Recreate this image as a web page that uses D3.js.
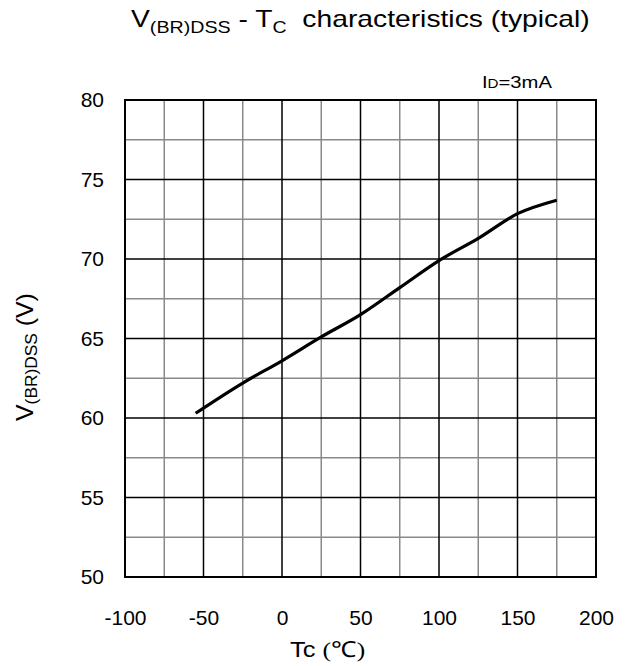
<!DOCTYPE html>
<html><head><meta charset="utf-8">
<script src="https://cdn.jsdelivr.net/npm/d3@7/dist/d3.min.js"></script>
<style>body{margin:0;background:#fff}svg{display:block}text{font-family:"Liberation Sans",Arial,sans-serif}</style>
</head><body><svg id="c" width="630" height="666"></svg>
<script>
const tempC = [-55, -25, 0, 25, 50, 75, 100, 125, 150, 175];
const vbrdss = [60.3, 62.2, 63.6, 65.1, 66.5, 68.2, 69.9, 71.3, 72.85, 73.7];
const xTicks = [-100, -50, 0, 50, 100, 150, 200];
const yTicks = [50, 55, 60, 65, 70, 75, 80];
const xMinor = [-75, -25, 25, 75, 125, 175];
const yMinor = [52.5, 57.5, 62.5, 67.5, 72.5, 77.5];

const svg = d3.select("#c");
const m = {l:125, r:596, t:100, b:577};
const x = d3.scaleLinear().domain([-100, 200]).range([m.l, m.r]);
const y = d3.scaleLinear().domain([50, 80]).range([m.b, m.t]);
const SANS = '"Liberation Sans",Arial,sans-serif';

const g = svg.append("g");
g.selectAll(".vx").data(xMinor).join("line")
  .attr("x1", d=>x(d)).attr("x2", d=>x(d)).attr("y1", m.t).attr("y2", m.b)
  .attr("stroke", "#8a8a8a").attr("stroke-width", 1.5);
g.selectAll(".hy").data(yMinor).join("line")
  .attr("y1", d=>y(d)).attr("y2", d=>y(d)).attr("x1", m.l).attr("x2", m.r)
  .attr("stroke", "#8a8a8a").attr("stroke-width", 1.5);
g.selectAll(".mx").data(xTicks.slice(1, -1)).join("line")
  .attr("x1", d=>x(d)).attr("x2", d=>x(d)).attr("y1", m.t).attr("y2", m.b)
  .attr("stroke", "#000").attr("stroke-width", 1.5);
g.selectAll(".my").data(yTicks.slice(1, -1)).join("line")
  .attr("y1", d=>y(d)).attr("y2", d=>y(d)).attr("x1", m.l).attr("x2", m.r)
  .attr("stroke", "#000").attr("stroke-width", 1.5);
g.append("rect").attr("x", m.l).attr("y", m.t).attr("width", m.r-m.l).attr("height", m.b-m.t)
  .attr("fill", "none").attr("stroke", "#000").attr("stroke-width", 2);

const xa = svg.append("g").attr("transform", `translate(0,${m.b})`)
  .call(d3.axisBottom(x).tickValues(xTicks).tickSize(0).tickPadding(33).tickFormat(d=>String(d)));
xa.select(".domain").remove();
xa.selectAll("text").attr("font-size", 21).attr("fill", "#000").style("font-family", SANS);
const ya = svg.append("g").attr("transform", `translate(${m.l},0)`)
  .call(d3.axisLeft(y).tickValues(yTicks).tickSize(0).tickPadding(21).tickFormat(d=>String(d)));
ya.select(".domain").remove();
ya.selectAll("text").attr("font-size", 21).attr("fill", "#000").style("font-family", SANS);

svg.append("path").datum(tempC.map((t,i)=>[t, vbrdss[i]]))
  .attr("d", d3.line().x(d=>x(d[0])).y(d=>y(d[1])).curve(d3.curveMonotoneX))
  .attr("fill", "none").attr("stroke", "#000").attr("stroke-width", 3.2);

function fit(sel, x0, y0, w) {
  const bw = sel.node().getComputedTextLength();
  sel.attr("transform", `translate(${x0},${y0}) scale(${w/bw},1)`);
}

const tt = svg.append("text").attr("font-size", 23).attr("fill", "#000");
tt.append("tspan").text("V");
tt.append("tspan").attr("font-size", 16).attr("dy", 6).text("(BR)DSS");
tt.append("tspan").attr("dy", -6).text(" - T");
tt.append("tspan").attr("font-size", 16).attr("dy", 6).text("C");
tt.append("tspan").attr("dy", -6).text("\u00a0\u00a0characteristics (typical)");
fit(tt, 131, 27, 459);

const idt = svg.append("text").attr("font-size", 16).attr("fill", "#000");
idt.append("tspan").text("I");
idt.append("tspan").attr("font-size", 12).text("D");
idt.append("tspan").text("=3mA");
fit(idt, 482, 88, 70);

const xl = svg.append("text").attr("font-size", 22).attr("fill", "#000");
xl.append("tspan").text("Tc\u00a0");
xl.append("tspan").style("font-family", '"Liberation Serif","Times New Roman",serif').text("(℃)");
fit(xl, 290, 657, 75);

const yl = svg.append("text").attr("font-size", 23).attr("fill", "#000");
yl.append("tspan").text("V");
yl.append("tspan").attr("font-size", 16).attr("dy", 4).text("(BR)DSS");
yl.append("tspan").attr("dy", -4).text("\u00a0(V)");
const ylw = yl.node().getComputedTextLength();
yl.attr("transform", `translate(33,421) rotate(-90) scale(${128/ylw},1)`);
</script></body></html>
